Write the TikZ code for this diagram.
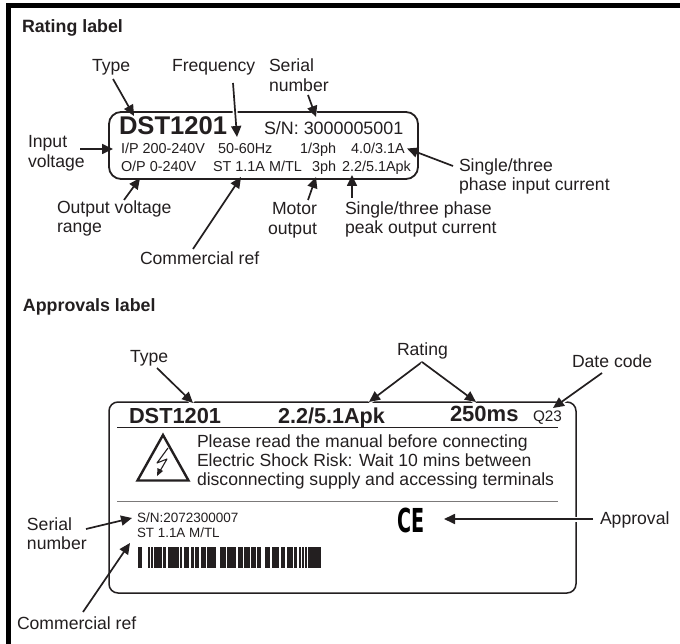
\documentclass[tikz,border=0pt]{standalone}
\usepackage{fontspec}
\setmainfont{Liberation Sans}
\newfontfamily\cefont{DejaVu Sans}
\usetikzlibrary{arrows.meta}
\definecolor{ink}{HTML}{231F20}
\tikzset{
  txt/.style={anchor=base west,inner sep=0pt,outer sep=0pt,text=ink,font=\fontsize{#1}{19}\selectfont},
  btxt/.style={anchor=base west,inner sep=0pt,outer sep=0pt,text=ink,font=\fontsize{#1}{19}\selectfont\bfseries},
  pointer/.style={draw=ink,line width=1.7pt,-{Triangle[length=11pt,width=10pt]}},
  haloed/.style={preaction={draw=white,line width=5pt,-}},
  labelbox/.style={draw=ink,rounded corners=#1},
  rule/.style={draw=ink,line width=0.8pt},
  frame/.style={fill=black,draw=none},
}
\begin{document}
\begin{tikzpicture}[x=1pt,y=-1pt]
\useasboundingbox (0,0) rectangle (680,644);
\fill[white] (0,0) rectangle (680,644);
% page frame
\fill[frame] (6,3) rectangle (680,8);
\fill[frame] (6,3) rectangle (11,644);

% rating label outline
\draw[labelbox=12pt,line width=1.8pt] (109,112) rectangle (418,179);
% approvals label outline
\draw[labelbox=9pt,line width=1.5pt] (109,402) rectangle (576,593);
\draw[rule] (117,427) -- (558,427);
\draw[rule,draw=ink!60] (117,501) -- (558,501);

% headings
\node[btxt=17.8] (h1) at (22,33) {Rating label};
\node[btxt=17.8] (h2) at (23,312) {Approvals label};

% rating label contents
\node[btxt=25.6] (r1) at (119,135) {DST1201};
\node[txt=17.9] (r2) at (264,135) {S/N: 3000005001};
\node[txt=14.4] (r3) at (121,154) {I/P 200-240V};
\node[txt=14.4] (r4) at (218,154) {50-60Hz};
\node[txt=14.4] (r5) at (300,154) {1/3ph};
\node[txt=14.4] (r6) at (351,154) {4.0/3.1A};
\node[txt=14.4] (r7) at (121,172) {O/P 0-240V};
\node[txt=14.4] (r8) at (213,172) {ST 1.1A M/TL};
\node[txt=14.4] (r9) at (312,172) {3ph};
\node[txt=14.4] (r10) at (342,172) {2.2/5.1Apk};

% rating label callouts
\node[txt=17.6] (c1) at (92,72) {Type};
\node[txt=17.6] (c2) at (172,72) {Frequency};
\node[txt=17.6] (c3a) at (269,72) {Serial};
\node[txt=17.6] (c3b) at (269,91.5) {number};
\node[txt=17.6] (c4a) at (28,148) {Input};
\node[txt=17.6] (c4b) at (28,168) {voltage};
\node[txt=17.6] (c5a) at (57,214) {Output voltage};
\node[txt=17.6] (c5b) at (57,233) {range};
\node[txt=17.6] (c6) at (140,265) {Commercial ref};
\node[txt=17.6] (c7a) at (272,215) {Motor};
\node[txt=17.6] (c7b) at (268,235) {output};
\node[txt=17.6] (c8a) at (345,215) {Single/three phase};
\node[txt=17.6] (c8b) at (345,234) {peak output current};
\node[txt=17.6] (c9a) at (459,172) {Single/three};
\node[txt=17.6] (c9b) at (459,191) {phase input current};

% approvals label contents
\node[btxt=21.8] (a1) at (129,423) {DST1201};
\node[btxt=21.6] (a2) at (278,423) {2.2/5.1Apk};
\node[btxt=22] (a3) at (450,421) {250ms};
\node[txt=15.3] (a4) at (533,421) {Q23};
\node[txt=17.6] (a5) at (197,447) {Please read the manual before connecting};
\node[txt=17.6] (a6) at (197,466) {Electric Shock Risk: Wait 10 mins between};
\node[txt=17.6] (a7) at (197,485) {disconnecting supply and accessing terminals};
\node[txt=13.5] (a8) at (137,522) {S/N:2072300007};
\node[txt=13.4] (a9) at (137,537) {ST 1.1A M/TL};
\node[anchor=base west,inner sep=0pt,text=black,xscale=0.58,font=\cefont\fontsize{33}{34}\selectfont\bfseries] (ce) at (397,532) {CE};

% warning triangle
\draw[ink,line width=2.4pt,line join=miter] (163,435) -- (137.5,480.5) -- (188.5,480.5) -- cycle;
\draw[ink,line width=1.1pt,line join=round] (168,448) -- (157,463) -- (167,459) -- (160,471);
\fill[ink] (157,476) -- (157.5,468) -- (163,471) -- cycle;

% barcode
\foreach \p/\q in {138.5/141.5,148/149,151/152,154/161,163/165,168/172,173/178,180/181,184/186,187/188,191/193,195/198,201/205,207/212,213/215,220/222,223/225,227/235,238/242,244/249,251/255,257/260,265/266,267.5/269,272/278,281/284,287/292,294/296,299/300,302/303.5,305/306,308/312,313/320}
  \fill[ink,draw=ink,line width=0.4pt] (\p,547) rectangle (\q,567);

% approvals callouts
\node[txt=17.6] (b1) at (130,362) {Type};
\node[txt=17.6] (b2) at (397,355) {Rating};
\node[txt=17.6] (b3) at (572,367) {Date code};
\node[txt=17.6] (b4) at (600,524) {Approval};
\node[txt=17.6] (b5a) at (27,530) {Serial};
\node[txt=17.6] (b5b) at (27,549) {number};
\node[txt=17.6] (b6) at (17,629) {Commercial ref};

% connector ends
\coordinate (t1s) at (113,79);   \coordinate (t1e) at (134,116);
\coordinate (t2s) at (233,83);   \coordinate (t2e) at (237,137);
\coordinate (t3s) at (308,95);   \coordinate (t3e) at (316,117);
\coordinate (t4s) at (80,149);   \coordinate (t4e) at (113,149);
\coordinate (t5s) at (124,200);  \coordinate (t5e) at (140,178);
\coordinate (t6s) at (193,249);  \coordinate (t6e) at (241,177);
\coordinate (t7s) at (308,200);  \coordinate (t7e) at (316,177);
\coordinate (t8s) at (352,198);  \coordinate (t8e) at (352,175);
\coordinate (t9s) at (453,166);  \coordinate (t9e) at (407,148.5);
\coordinate (u1s) at (157,368);  \coordinate (u1e) at (193,403);
\coordinate (uapex) at (422,362);\coordinate (u2e) at (369,402); \coordinate (u3e) at (476,402);
\coordinate (u4s) at (602,373);  \coordinate (u4e) at (553,408);
\coordinate (u5s) at (593,519);  \coordinate (u5e) at (444,519);
\coordinate (u6s) at (86,529);   \coordinate (u6e) at (132,518);
\coordinate (u7s) at (83,612);   \coordinate (u7e) at (130,543);

% connectors
\draw[pointer] (t1s) -- (t1e);
\draw[pointer,haloed] (t2s) -- (t2e);
\draw[pointer,haloed] (t3s) -- (t3e);
\draw[pointer] (t4s) -- (t4e);
\draw[pointer] (t5s) -- (t5e);
\draw[pointer] (t6s) -- (t6e);
\draw[pointer] (t7s) -- (t7e);
\draw[pointer] (t8s) -- (t8e);
\draw[pointer] (t9s) -- (t9e);
\draw[pointer,haloed] (u1s) -- (u1e);
\draw[pointer,haloed] (uapex) -- (u2e);
\draw[pointer,haloed] (uapex) -- (u3e);
\draw[pointer,haloed] (u4s) -- (u4e);
\draw[pointer,haloed] (u5s) -- (u5e);
\draw[pointer] (u6s) -- (u6e);
\draw[pointer] (u7s) -- (u7e);
\end{tikzpicture}
\end{document}
